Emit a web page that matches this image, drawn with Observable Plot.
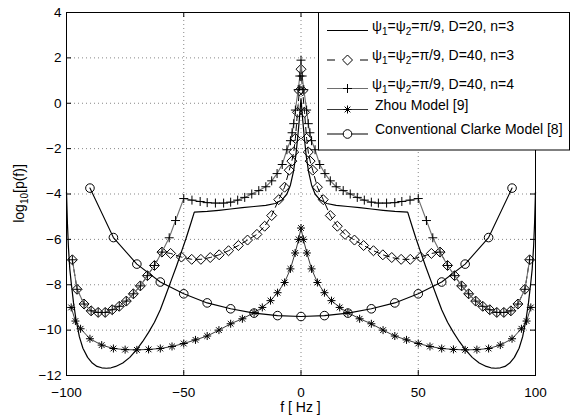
<!DOCTYPE html>
<html><head><meta charset="utf-8">
<script src="https://cdn.jsdelivr.net/npm/d3@7"></script>
<script src="https://cdn.jsdelivr.net/npm/@observablehq/plot@0.6"></script>
<style>
body{margin:0;background:#fff}
svg{font-family:"Liberation Sans",Arial,Helvetica,sans-serif}
</style>
</head><body><div id="chart"></div>
<script>
// ---- Data ----
// psi1=psi2=pi/9, D=20, n=3 (solid line, no markers)
const d20n3F = [-100,-99.6,-99.2,-98.6,-98,-97,-96,-94.5,-93,-91,-89,-87,-85,-83,-81,-79,-76,-73,-70,-67.5,-65,-62.5,-60,-58,-55.5,-53,-51,-49,-47,-45.5,-40,-35,-30,-25,-20,-15,-11,-8,-6,-4.5,-3.2,-2.2,-1.4,-0.7,0,
  0.7,1.4,2.2,3.2,4.5,6,8,11,15,20,25,30,35,40,45.5,47,49,51,53,55.5,58,60,62.5,65,67.5,70,73,76,79,81,83,85,87,89,91,93,94.5,96,97,98,98.6,99.2,99.6,100];
const d20n3V = [-3.9,-5.3,-6.3,-7.3,-7.9,-8.8,-9.5,-10.3,-10.8,-11.2,-11.45,-11.6,-11.66,-11.68,-11.66,-11.6,-11.45,-11.2,-10.85,-10.5,-10.1,-9.65,-9.1,-8.55,-7.85,-7.15,-6.55,-5.95,-5.3,-4.8,-4.77,-4.72,-4.66,-4.6,-4.55,-4.5,-4.42,-4.25,-4.0,-3.6,-3.0,-2.3,-1.5,-0.7,0.2,
  -0.7,-1.5,-2.3,-3.0,-3.6,-4.0,-4.25,-4.42,-4.5,-4.55,-4.6,-4.66,-4.72,-4.77,-4.8,-5.3,-5.95,-6.55,-7.15,-7.85,-8.55,-9.1,-9.65,-10.1,-10.5,-10.85,-11.2,-11.45,-11.6,-11.66,-11.68,-11.66,-11.6,-11.45,-11.2,-10.8,-10.3,-9.5,-8.8,-7.9,-7.3,-6.3,-5.3,-3.9];

// psi1=psi2=pi/9, D=40, n=3 (dashed, diamonds)
const d40n3F = [-97.5,-95.5,-92.5,-89.5,-86.5,-83.5,-80.5,-77.5,-74.5,-71.5,-68.5,-65.5,-62.5,-59.3,-55.6,-51,-46.6,-42.7,-38.7,-34.9,-30.9,-26.7,-22.8,-18.8,-15.5,-12.5,-9.5,-7,-5,-3.9,-3.1,-2.4,-1.5,-0.7,0,
  0.7,1.5,2.4,3.1,3.9,5,7,9.5,12.5,15.5,18.8,22.8,26.7,30.9,34.9,38.7,42.7,46.6,51,55.6,59.3,62.5,65.5,68.5,71.5,74.5,77.5,80.5,83.5,86.5,89.5,92.5,95.5,97.5];
const d40n3V = [-6.9,-8.2,-8.85,-9.15,-9.22,-9.22,-9.1,-8.95,-8.72,-8.4,-8.05,-7.6,-7.15,-6.56,-6.62,-6.78,-6.88,-6.88,-6.8,-6.68,-6.5,-6.27,-6.03,-5.78,-5.42,-4.95,-4.25,-3.7,-2.95,-2.55,-2.15,-1.55,-0.4,0.55,1.5,
  0.55,-0.4,-1.55,-2.15,-2.55,-2.95,-3.7,-4.25,-4.95,-5.42,-5.78,-6.03,-6.27,-6.5,-6.68,-6.8,-6.88,-6.88,-6.78,-6.62,-6.56,-7.15,-7.6,-8.05,-8.4,-8.72,-8.95,-9.1,-9.22,-9.22,-9.15,-8.85,-8.2,-6.9];

// psi1=psi2=pi/9, D=40, n=4 (gray line, plus markers)
const d40n4F = [-97.5,-95.5,-92.5,-89.5,-86.5,-83.5,-80.5,-77.5,-74.5,-71.5,-68.5,-65.5,-62.5,-59.3,-56.2,-53.5,-50,-46.5,-43,-40,-36.5,-33,-30,-27,-24,-21,-18,-15,-12.5,-10.2,-8,-6,-4.5,-3.8,-3.1,-2.4,-1.2,-0.5,0,
  0.5,1.2,2.4,3.1,3.8,4.5,6,8,10.2,12.5,15,18,21,24,27,30,33,36.5,40,43,46.5,50,53.5,56.2,59.3,62.5,65.5,68.5,71.5,74.5,77.5,80.5,83.5,86.5,89.5,92.5,95.5,97.5];
const d40n4V = [-6.9,-8.2,-8.85,-9.15,-9.22,-9.22,-9.1,-8.95,-8.72,-8.4,-8.05,-7.6,-7.15,-6.56,-5.93,-5.17,-4.2,-4.27,-4.33,-4.38,-4.4,-4.4,-4.36,-4.27,-4.15,-4.0,-3.85,-3.68,-3.42,-3.1,-2.7,-2.05,-1.65,-1.3,-0.9,-0.3,0.6,1.2,1.9,
  1.2,0.6,-0.3,-0.9,-1.3,-1.65,-2.05,-2.7,-3.1,-3.42,-3.68,-3.85,-4.0,-4.15,-4.27,-4.36,-4.4,-4.4,-4.38,-4.33,-4.27,-4.2,-5.17,-5.93,-6.56,-7.15,-7.6,-8.05,-8.4,-8.72,-8.95,-9.1,-9.22,-9.22,-9.15,-8.85,-8.2,-6.9];

// Zhou Model [9] (asterisks)
const zhouF = [-98,-96.2,-94,-90,-85,-80,-75,-70,-65,-60,-55,-50,-45,-40,-35,-30,-25,-20,-16.5,-13,-10,-7,-4.5,-2.5,-1,0,
  1,2.5,4.5,7,10,13,16.5,20,25,30,35,40,45,50,55,60,65,70,75,80,85,90,94,96.2,98];
const zhouV = [-9.0,-9.6,-9.94,-10.38,-10.66,-10.81,-10.86,-10.87,-10.85,-10.81,-10.72,-10.59,-10.43,-10.26,-10.0,-9.72,-9.5,-9.23,-9.0,-8.7,-8.35,-7.9,-7.3,-6.6,-6.0,-5.5,
  -6.0,-6.6,-7.3,-7.9,-8.35,-8.7,-9.0,-9.23,-9.5,-9.72,-10.0,-10.26,-10.43,-10.59,-10.72,-10.81,-10.85,-10.87,-10.86,-10.81,-10.66,-10.38,-9.94,-9.6,-9.0];

// Conventional Clarke Model [8] (circles)
const clarkeF = [-90,-80,-70,-60,-50,-40,-30,-20,-10,0,10,20,30,40,50,60,70,80,90];
const clarkeV = [-3.74,-5.92,-7.09,-7.88,-8.4,-8.8,-9.06,-9.25,-9.36,-9.4,-9.36,-9.25,-9.06,-8.8,-8.4,-7.88,-7.09,-5.92,-3.74];

const xTicks = [-100,-50,0,50,100];
const yTicks = [-12,-10,-8,-6,-4,-2,0,2,4];
const legendLabels = ["ψ_1=ψ_2=π/9, D=20, n=3","ψ_1=ψ_2=π/9, D=40, n=3","ψ_1=ψ_2=π/9, D=40, n=4","Zhou Model [9]","Conventional Clarke Model [8]"];
const xLabel = "f [ Hz ]";

// ---- build ----
const rows = (fs, vs) => fs.map((f, i) => ({f, v: vs[i]}));
const s1 = rows(d20n3F, d20n3V), s2 = rows(d40n3F, d40n3V), s3 = rows(d40n4F, d40n4V),
      s4 = rows(zhouF, zhouV), s5 = rows(clarkeF, clarkeV);

const W = 571, H = 416, mT = 12, mR = 36, mB = 41, mL = 66;
const pw = W - mL - mR, ph = H - mT - mB, tk = 5;
const grid = {stroke: "black", strokeOpacity: 0.6, strokeDasharray: "1,3", strokeWidth: 0.8};

const chart = Plot.plot({
  width: W, height: H, marginTop: mT, marginRight: mR, marginBottom: mB, marginLeft: mL,
  style: {fontFamily: '"Liberation Sans",Arial,sans-serif', fontSize: "13.5px", background: "white", color: "black", overflow: "visible"},
  x: {domain: [-100, 100]},
  y: {domain: [-12, 4]},
  marks: [
    Plot.gridX(xTicks, grid),
    Plot.gridY(yTicks, grid),
    Plot.tickX(xTicks, {x: d => d, insetTop: ph - tk, stroke: "black"}),
    Plot.tickX(xTicks, {x: d => d, insetBottom: ph - tk, stroke: "black"}),
    Plot.tickY(yTicks, {y: d => d, insetRight: pw - tk, stroke: "black"}),
    Plot.tickY(yTicks, {y: d => d, insetLeft: pw - tk, stroke: "black"}),
    // Clarke
    Plot.line(s5, {x: "f", y: "v", stroke: "black", strokeWidth: 1.1}),
    Plot.dot(s5, {x: "f", y: "v", r: 4.3, stroke: "black", fill: "none", strokeWidth: 1}),
    // Zhou
    Plot.line(s4, {x: "f", y: "v", stroke: "#222", strokeWidth: 0.9}),
    Plot.dot(s4, {x: "f", y: "v", symbol: "plus", r: 2.7, stroke: "black", strokeWidth: 1}),
    Plot.dot(s4, {x: "f", y: "v", symbol: "times", r: 2.7, stroke: "black", strokeWidth: 1}),
    // D=40 n=3 diamonds
    Plot.line(s2, {x: "f", y: "v", stroke: "black", strokeWidth: 1, strokeDasharray: "6,4"}),
    Plot.dot(s2, {x: "f", y: "v", symbol: "diamond2", r: 4.5, stroke: "black", fill: "none", strokeWidth: 1}),
    // D=40 n=4 plus
    Plot.line(s3, {x: "f", y: "v", stroke: "#6e6e6e", strokeWidth: 1.1}),
    Plot.dot(s3, {x: "f", y: "v", symbol: "plus", r: 3.0, stroke: "black", strokeWidth: 1}),
    // D=20 n=3 solid
    Plot.line(s1, {x: "f", y: "v", stroke: "black", strokeWidth: 1.2}),
    Plot.frame({stroke: "black", strokeWidth: 1}),
    Plot.axisX(xTicks, {tickSize: 0, tickPadding: 12, fontSize: 13.5, label: null}),
    Plot.axisY(yTicks, {tickSize: 0, tickPadding: 5, fontSize: 13.5, label: null})
  ]
});
document.getElementById("chart").appendChild(chart);

const svg = d3.select(chart);
// axis labels
svg.append("text").attr("x", mL + pw / 2).attr("y", 407).attr("text-anchor", "middle")
  .attr("dy", "0.35em").attr("font-size", 14).attr("fill", "black").text(xLabel);
const yl = svg.append("text").attr("transform", `translate(19,${mT + ph / 2}) rotate(-90)`)
  .attr("text-anchor", "middle").attr("dy", "0.35em").attr("font-size", 14).attr("fill", "black");
yl.append("tspan").text("log");
yl.append("tspan").text("10").attr("font-size", 10).attr("dy", 4);
yl.append("tspan").text("[p(f)]").attr("dy", -4);

// legend
const lg = svg.append("g").attr("text-anchor", "start");
const bx = 318.5, by = 12.5, bw = 251, bh = 137.5;
lg.append("rect").attr("x", bx).attr("y", by).attr("width", bw).attr("height", bh)
  .attr("fill", "white").attr("stroke", "black").attr("stroke-width", 1);
const rowY = [30.5, 60, 88.5, 109.5, 134];
const lx0 = 327, lx1 = 368, mx = 347.5, tx = 372;
const styles = [
  {stroke: "black", dash: null, w: 1.2},
  {stroke: "black", dash: "8,25", w: 1},
  {stroke: "#6e6e6e", dash: null, w: 1.1},
  {stroke: "#222", dash: null, w: 0.9},
  {stroke: "black", dash: null, w: 1.1}
];
const sym = (type, r) => d3.symbol(type, Math.PI * r * r)();
legendLabels.forEach((lab, i) => {
  const y = rowY[i], st = styles[i];
  const ln = lg.append("line").attr("x1", lx0).attr("x2", lx1).attr("y1", y).attr("y2", y)
    .attr("stroke", st.stroke).attr("stroke-width", st.w);
  if (st.dash) ln.attr("stroke-dasharray", st.dash);
  const m = lg.append("g").attr("transform", `translate(${mx},${y})`).attr("fill", "none").attr("stroke", "black");
  if (i === 1) m.append("path").attr("d", sym(d3.symbolDiamond2, 4.5)).attr("fill", "white");
  if (i === 2) m.append("path").attr("d", sym(d3.symbolPlus, 3.0));
  if (i === 3) { m.append("path").attr("d", sym(d3.symbolPlus, 2.7)); m.append("path").attr("d", sym(d3.symbolTimes, 2.7)); }
  if (i === 4) m.append("circle").attr("r", 4.3).attr("fill", "white");
  const t = lg.append("text").attr("x", i >= 3 ? tx + 3 : tx).attr("y", y).attr("dy", "0.35em").attr("font-size", 14)
    .attr("fill", "black").attr("text-anchor", "start");
  lab.split(/_(\d)/).forEach((part, j) => {
    if (!part) return;
    if (j % 2 === 1) t.append("tspan").text(part).attr("font-size", 10).attr("dy", 4);
    else t.append("tspan").text(part).attr("dy", j > 0 ? -4 : 0);
  });
});
</script>
</body></html>
